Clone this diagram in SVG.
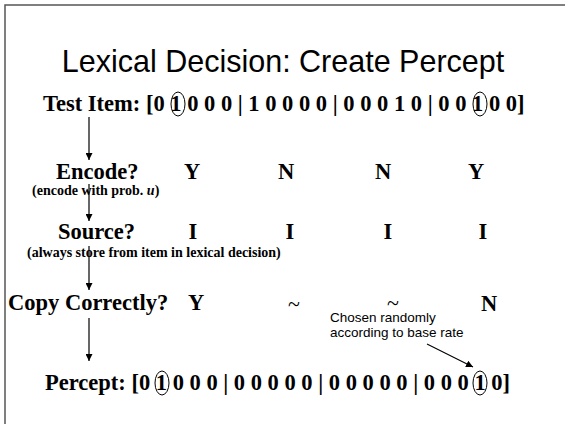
<svg xmlns="http://www.w3.org/2000/svg" width="565" height="424" viewBox="0 0 565 424">
<defs>
<marker id="ah" viewBox="0 0 10 10" refX="10" refY="5" markerWidth="7" markerHeight="7" orient="auto" markerUnits="userSpaceOnUse">
<path d="M0,0 L10,5 L0,10 z" fill="#000"/>
</marker>
<style>
.title{font-family:"Liberation Sans",Arial,sans-serif;font-size:30.5px;fill:#000}
.big{font-family:"Liberation Serif","Times New Roman",serif;font-weight:bold;font-size:22.5px;fill:#000}
.small{font-family:"Liberation Serif","Times New Roman",serif;font-weight:bold;font-size:14px;fill:#000}
.note{font-family:"Liberation Sans",Arial,sans-serif;font-size:13.5px;fill:#000}
.tilde{font-family:"Liberation Serif","Times New Roman",serif;font-size:22px;fill:#000}
.conn{stroke:#000;stroke-width:1.2;fill:none}
.circ{stroke:#000;stroke-width:1;fill:none}
.frame{stroke:#555;stroke-width:1.5;fill:none}
</style>
</defs>
<path class="frame" d="M5,424 L5,5 L565,5"/>
<g id="title"><text class="title" x="283" y="72" text-anchor="middle">Lexical Decision: Create Percept</text></g>
<g id="test-item">
<text class="big" x="43" y="111" xml:space="preserve">Test Item: [0 1 0 0 0 | 1 0 0 0 0 | 0 0 0 1 0 | 0 0 1 0 0]</text>
<ellipse class="circ" cx="178" cy="104" rx="7" ry="12"/>
<ellipse class="circ" cx="480" cy="104" rx="7" ry="12"/>
</g>
<g id="encode">
<text class="big" x="56" y="179">Encode?</text>
<text class="big" x="192" y="179" text-anchor="middle">Y</text>
<text class="big" x="286" y="179" text-anchor="middle">N</text>
<text class="big" x="383" y="179" text-anchor="middle">N</text>
<text class="big" x="476" y="179" text-anchor="middle">Y</text>
<text class="small" x="32" y="195">(encode with prob. <tspan font-style="italic">u</tspan>)</text>
</g>
<g id="source">
<text class="big" x="58" y="239">Source?</text>
<text class="big" x="193" y="239" text-anchor="middle">I</text>
<text class="big" x="290" y="239" text-anchor="middle">I</text>
<text class="big" x="388" y="239" text-anchor="middle">I</text>
<text class="big" x="483" y="239" text-anchor="middle">I</text>
<text class="small" x="27" y="257">(always store from item in lexical decision)</text>
</g>
<g id="copy">
<text class="big" x="8" y="310">Copy Correctly?</text>
<text class="big" x="196" y="310" text-anchor="middle">Y</text>
<text class="tilde" x="294" y="311" text-anchor="middle">~</text>
<text class="tilde" x="393" y="310" text-anchor="middle">~</text>
<text class="big" x="489" y="311" text-anchor="middle">N</text>
</g>
<g id="note">
<text class="note" x="330" y="322">Chosen randomly</text>
<text class="note" x="330" y="337">according to base rate</text>
</g>
<g id="percept">
<text class="big" x="45" y="390" xml:space="preserve">Percept: [0 1 0 0 0 | 0 0 0 0 0 | 0 0 0 0 0 | 0 0 0 1 0]</text>
<ellipse class="circ" cx="162" cy="383" rx="7" ry="12"/>
<ellipse class="circ" cx="480" cy="383" rx="7" ry="12"/>
</g>
<g id="connectors">
<line class="conn" x1="89" y1="117" x2="89" y2="160" marker-end="url(#ah)"/>
<line class="conn" x1="89" y1="184" x2="89" y2="221" marker-end="url(#ah)"/>
<line class="conn" x1="89" y1="246" x2="89" y2="290" marker-end="url(#ah)"/>
<line class="conn" x1="89" y1="318" x2="89" y2="361" marker-end="url(#ah)"/>
<line class="conn" x1="427" y1="344" x2="473" y2="367" marker-end="url(#ah)"/>
</g>
</svg>
